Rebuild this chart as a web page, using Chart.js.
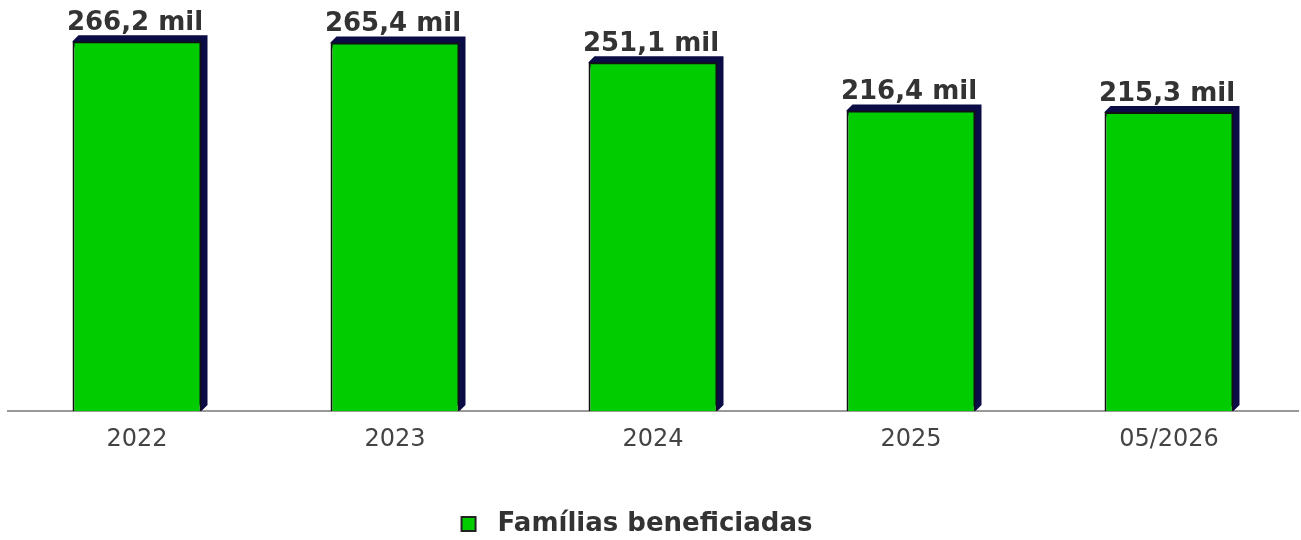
<!DOCTYPE html>
<html>
<head>
<meta charset="utf-8">
<script src="https://cdn.jsdelivr.net/npm/chart.js@4/dist/chart.umd.min.js"></script>
<style>
  html, body { margin: 0; padding: 0; background: #fff; }
  #wrap { width: 1301px; height: 540px; }
</style>
</head>
<body>
<div id="wrap"><canvas id="familiasChart"></canvas></div>
<script>
const categories = ["2022", "2023", "2024", "2025", "05/2026"];
const familias = [266.2, 265.4, 251.1, 216.4, 215.3];
const seriesLabel = "Famílias beneficiadas";

const DEPTH = 6;

// fake 3D: dark side and top drawn behind each bar, value labels on top
const depthPlugin = {
    id: "depth",
    afterLayout(chart) {
        // legend sits a bit left of centre in the original
        chart.legend.left -= 16;
        chart.legend.right -= 16;
    },
    beforeDatasetsDraw(chart) {
        const ctx = chart.ctx;
        chart.getDatasetMeta(0).data.forEach((bar) => {
            const left = bar.x - bar.width / 2;
            const right = bar.x + bar.width / 2;
            ctx.save();
            ctx.fillStyle = "#0b0b45";
            ctx.beginPath();
            ctx.moveTo(left, bar.y);
            ctx.lineTo(left + DEPTH, bar.y - DEPTH);
            ctx.lineTo(right + DEPTH, bar.y - DEPTH);
            ctx.lineTo(right + DEPTH, bar.base - DEPTH);
            ctx.lineTo(right, bar.base);
            ctx.closePath();
            ctx.fill();
            ctx.restore();
        });
    },
    afterDatasetsDraw(chart) {
        const ctx = chart.ctx;
        ctx.save();
        ctx.font = "bold 26px 'DejaVu Sans'";
        ctx.fillStyle = "#333333";
        ctx.textAlign = "center";
        ctx.textBaseline = "alphabetic";
        chart.getDatasetMeta(0).data.forEach((bar, i) => {
            const txt = familias[i].toFixed(1).replace(".", ",") + " mil";
            ctx.fillText(txt, bar.x - 2, bar.y - 11);
        });
        ctx.restore();
    },
};

new Chart(document.getElementById("familiasChart"), {
    type: "bar",
    data: {
        labels: categories,
        datasets: [{
            label: seriesLabel,
            data: familias,
            backgroundColor: "#00cc00",
            borderColor: "#111111",
            borderWidth: 2,
            borderSkipped: "bottom",
            barPercentage: 1,
            categoryPercentage: 0.5,
        }],
    },
    options: {
        responsive: true,
        maintainAspectRatio: false,
        animation: false,
        layout: {
            padding: { left: 8, right: 3, top: 36, bottom: -7 },
        },
        plugins: {
            tooltip: { enabled: false },
            legend: {
                position: "bottom",
                labels: {
                    boxWidth: 14,
                    boxHeight: 14,
                    color: "#333333",
                    font: { family: "'DejaVu Sans'", size: 26, weight: "bold" },
                    generateLabels: (chart) => chart.data.datasets.map((ds, i) => ({
                        text: " " + ds.label,
                        fillStyle: ds.backgroundColor,
                        strokeStyle: "#222222",
                        lineWidth: 2,
                        fontColor: "#333333",
                        hidden: false,
                        datasetIndex: i,
                    })),
                },
            },
        },
        scales: {
            x: {
                grid: { display: false, drawTicks: false },
                border: { display: true, color: "#999999", width: 2 },
                ticks: {
                    color: "#444444",
                    padding: 14,
                    font: { family: "'DejaVu Sans'", size: 24 },
                },
                afterFit(scale) {
                    scale.height = 90;
                },
            },
            y: {
                display: false,
                min: 0,
                max: 270,
            },
        },
    },
    plugins: [depthPlugin],
});
</script>
</body>
</html>
